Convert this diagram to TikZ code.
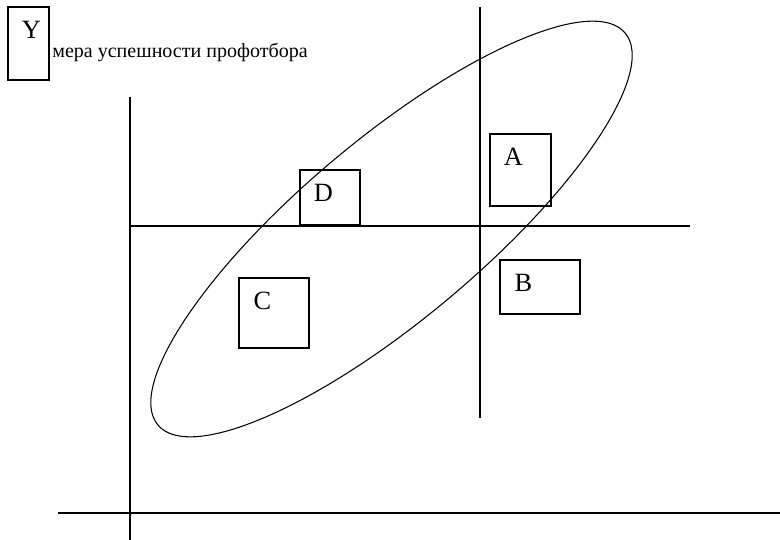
\documentclass[tikz,border=0pt]{standalone}
\usepackage{fontspec}
\setmainfont{Liberation Serif}
\usepackage{tikz}
\usetikzlibrary{positioning,calc}
\tikzset{
  axis/.style={line width=0.8pt, draw=black},
  thinline/.style={line width=0.6pt, draw=black},
  cellbox/.style={draw=black, line width=0.6pt, inner sep=0pt, fill=none},
  letter/.style={inner sep=0pt, font=\fontsize{15}{15}\selectfont},
  caption/.style={inner sep=0pt, font=\fontsize{11.4}{13}\selectfont},
}

\begin{document}
\begin{tikzpicture}[x=0.02cm, y=0.02cm]
    \useasboundingbox (0,0) rectangle (780,540);
    % axes
    \coordinate (ytop) at (130,443);
    \coordinate (ybot) at (130,0);
    \coordinate (xleft) at (58,27);
    \coordinate (xright) at (780,27);
    \draw[axis] (ytop) -- (ybot);
    \draw[axis] (xleft) -- (xright);
    % dividing lines
    \coordinate (hleft) at (130,314);
    \coordinate (hright) at (690,314);
    \coordinate (vtop) at (480,533);
    \coordinate (vbot) at (480,122);
    \draw[thinline] (hleft) -- (hright);
    \draw[thinline] (vtop) -- (vbot);
    % ellipse
    \coordinate (ctr) at (391.5,311);
    \draw[thinline, rotate around={40:(ctr)}] (ctr) ellipse [x radius=6.1cm, y radius=1.8cm];
    % boxes
    \node[cellbox, minimum width=0.82cm, minimum height=1.46cm] (Ybox) at (28.5,496.5) {};
    \node[cellbox, minimum width=1.22cm, minimum height=1.44cm] (A) at (520.5,370) {};
    \node[cellbox, minimum width=1.2cm, minimum height=1.1cm] (D) at (330,342.5) {};
    \node[cellbox, minimum width=1.6cm, minimum height=1.08cm] (B) at (540,253) {};
    \node[cellbox, minimum width=1.4cm, minimum height=1.4cm] (C) at (274,227) {};
    % labels
    \foreach \b/\t in {Ybox/Y, A/A, D/D, B/B, C/C}
      \node[letter] (\b-lbl) at ($(\b.north west)+(24,-23)$) {\t};
    \node[caption, anchor=base west] (cap) at (52,482) {мера успешности профотбора};
\end{tikzpicture}
\end{document}
